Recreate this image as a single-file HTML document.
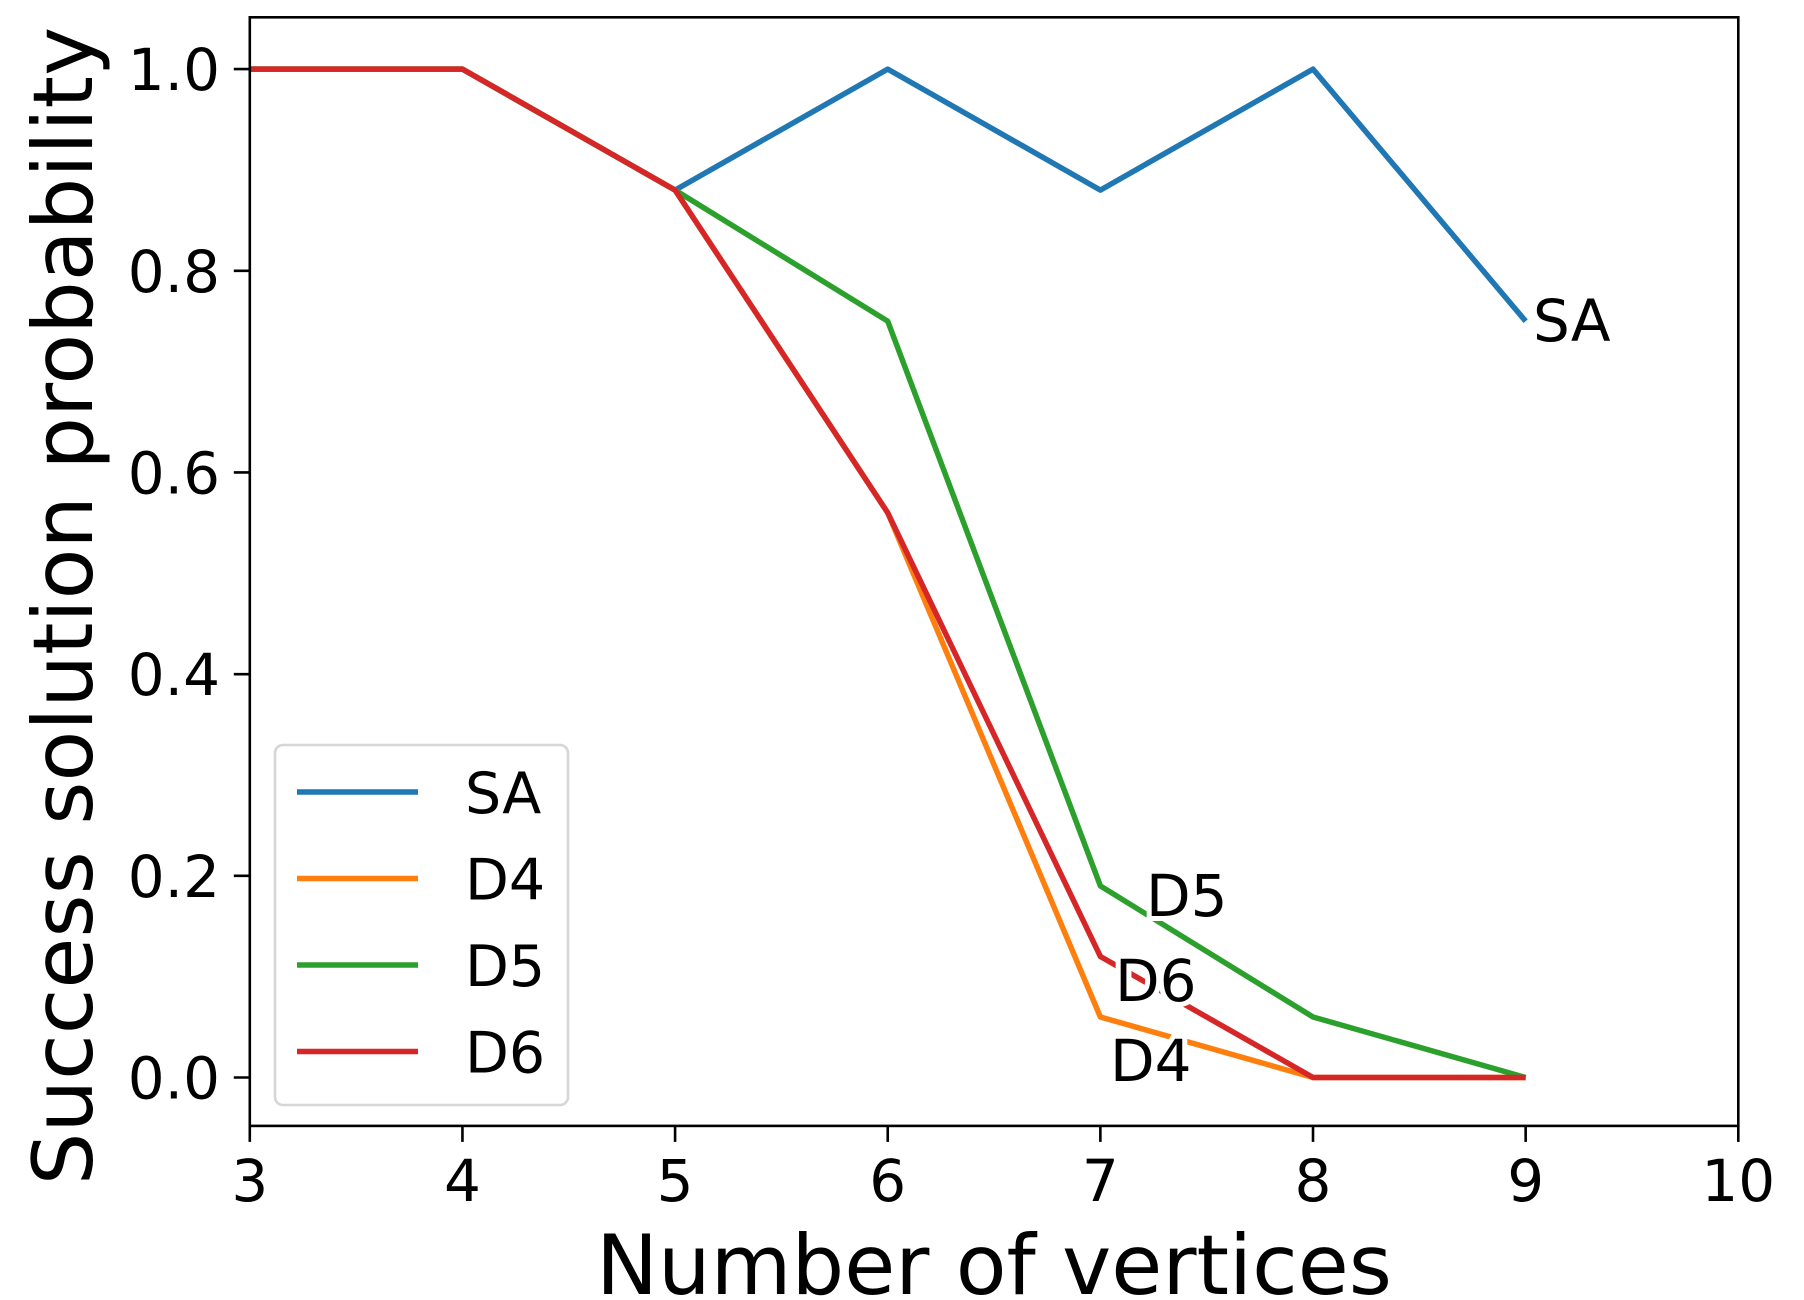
<!DOCTYPE html>
<html><head><meta charset="utf-8"><style>
html,body{margin:0;padding:0;background:#fff;}
svg{display:block;font-family:"DejaVu Sans","Liberation Sans",sans-serif;}
</style></head><body>
<svg id="chart" width="1804" height="1300" viewBox="0 0 1804 1300" xmlns="http://www.w3.org/2000/svg">
<g id="series"></g>
<g id="annot"></g>
<g id="axes"></g>
<g id="legend"></g>
</svg>
<script>
const xValues = [3, 4, 5, 6, 7, 8, 9];
const seriesNames = ["SA", "D4", "D5", "D6"];
const saValues = [1, 1, 0.88, 1, 0.88, 1, 0.75];
const d4Values = [1, 1, 0.88, 0.56, 0.06, 0, 0];
const d5Values = [1, 1, 0.88, 0.75, 0.19, 0.06, 0];
const d6Values = [1, 1, 0.88, 0.56, 0.12, 0, 0];
const xTicks = [3, 4, 5, 6, 7, 8, 9, 10];
const yTicks = [0.0, 0.2, 0.4, 0.6, 0.8, 1.0];

const colors = ["#1f77b4", "#ff7f0e", "#2ca02c", "#d62728"];
const allSeries = [saValues, d4Values, d5Values, d6Values];
const L = 249.8, R = 1738.3, T = 17.3, B = 1125.9;
const X = v => L + (v - 3) * (R - L) / 7;
const Y = v => 1077.5 - v * 1008.4;
const NS = "http://www.w3.org/2000/svg";
function mk(tag, attrs, parent) {
  const e = document.createElementNS(NS, tag);
  for (const k in attrs) e.setAttribute(k, attrs[k]);
  parent.appendChild(e);
  return e;
}
const gS = document.getElementById('series');
allSeries.forEach((vals, i) => {
  const pts = vals.map((v, j) => X(xValues[j]) + ',' + Y(v)).join(' ');
  const pl = mk('polyline', {points: pts, fill: 'none', stroke: colors[i], 'stroke-width': 5.5, 'stroke-linejoin': 'round'}, gS);
  
  
});
const gA = document.getElementById('annot');
const annPos = [[1533, 341], [1110, 1081], [1146, 916], [1115, 1001]];
[0, 1, 2, 3].forEach(i => {
  const t = mk('text', {x: annPos[i][0], y: annPos[i][1], 'font-size': 58, fill: '#000', stroke: '#fff', 'stroke-width': 10, 'paint-order': 'stroke'}, gA);
  t.textContent = seriesNames[i];
  
  
});
const gX = document.getElementById('axes');
const frame = mk('rect', {x: L, y: T, width: R - L, height: B - T, fill: 'none', stroke: '#000', 'stroke-width': 2.6}, gX);


xTicks.forEach(v => {
  const tk = mk('line', {x1: X(v), x2: X(v), y1: B, y2: B + 16, stroke: '#000', 'stroke-width': 2.6}, gX);
  
  
  const t = mk('text', {x: X(v), y: 1201, 'font-size': 58, 'text-anchor': 'middle'}, gX);
  t.textContent = v;
  
  
});
yTicks.forEach(v => {
  const tk = mk('line', {x1: L - 16, x2: L, y1: Y(v), y2: Y(v), stroke: '#000', 'stroke-width': 2.6}, gX);
  
  
  const t = mk('text', {x: 220, y: Y(v) + 21, 'font-size': 58, 'text-anchor': 'end'}, gX);
  t.textContent = v.toFixed(1);
  
  
});
const xt = mk('text', {x: 994, y: 1294, 'font-size': 83, 'text-anchor': 'middle'}, gX);
xt.textContent = 'Number of vertices';


const yt = mk('text', {x: 0, y: 0, 'font-size': 83, 'text-anchor': 'middle', transform: 'translate(92,606) rotate(-90)'}, gX);
yt.textContent = 'Success solution probability';


const gL = document.getElementById('legend');
const box = mk('rect', {x: 275, y: 745, width: 293, height: 360, rx: 8, fill: '#fff', 'fill-opacity': 0.8, stroke: '#d6d6d6', 'stroke-width': 2.6}, gL);


seriesNames.forEach((n, i) => {
  const y = 792 + i * 86.5;
  const ln = mk('line', {x1: 297, x2: 418, y1: y, y2: y, stroke: colors[i], 'stroke-width': 5.5}, gL);
  
  
  const t = mk('text', {x: 465, y: y + 21, 'font-size': 57}, gL);
  t.textContent = n;
  
  
});
</script>
</body></html>
